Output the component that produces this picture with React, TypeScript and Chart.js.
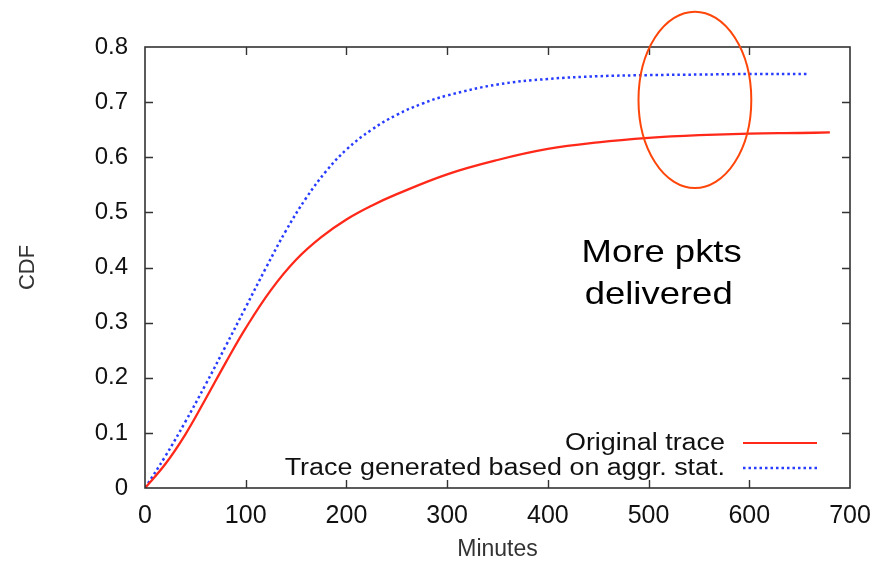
import React, { useEffect, useRef } from "react";
import { Chart, registerables } from "chart.js";

Chart.register(...registerables);

// Original trace (red, solid)
const origMinutes = [0, 20, 40, 60, 80, 100, 125, 150, 175, 200, 225, 250, 300, 350, 400, 450, 500, 550, 600, 650, 680];
const origCdf = [0, 0.043, 0.097, 0.161, 0.227, 0.29, 0.359, 0.414, 0.455, 0.487, 0.512, 0.533, 0.569, 0.595, 0.615, 0.627, 0.635, 0.64, 0.643, 0.644, 0.645];

// Trace generated based on aggr. stat. (blue, dotted)
const aggMinutes = [0, 20, 40, 60, 80, 100, 120, 140, 160, 180, 200, 225, 250, 275, 300, 350, 400, 450, 500, 550, 600, 657];
const aggCdf = [0, 0.057, 0.12, 0.187, 0.257, 0.328, 0.399, 0.467, 0.526, 0.575, 0.614, 0.65, 0.677, 0.697, 0.712, 0.732, 0.742, 0.747, 0.749, 0.75, 0.751, 0.751];

const xTickLabels = ["0", "100", "200", "300", "400", "500", "600", "700"];
const yTickLabels = ["0", "0.1", "0.2", "0.3", "0.4", "0.5", "0.6", "0.7", "0.8"];

const seriesNames = ["Original trace", "Trace generated based on aggr. stat."];
const annotationLines = ["More pkts", "delivered"];
const xTitle = "Minutes";
const yTitle = "CDF";

const RED = "rgb(255,40,25)";
const BLUE = "rgb(40,60,255)";
const FONT = "'Liberation Sans', Arial, sans-serif";
const STRETCH = 1.14;

function stretchedText(ctx: any, text: string, x: number, y: number, align: string, k = STRETCH) {
  ctx.save();
  ctx.translate(x, y);
  ctx.scale(k, 1);
  ctx.textAlign = align;
  ctx.fillText(text, 0, 0);
  ctx.restore();
}

const overlayPlugin = {
  id: "overlay",
  afterDraw(chart: any) {
    const { ctx, chartArea } = chart;
    const xs = chart.scales.x;
    const ys = chart.scales.y;
    const { left, right, top, bottom } = chartArea;
    ctx.save();
    // frame
    ctx.strokeStyle = "#333";
    ctx.lineWidth = 1.6;
    ctx.strokeRect(left, top, right - left, bottom - top);
    // inward ticks
    const tl = 8;
    ctx.lineWidth = 1.4;
    ctx.beginPath();
    for (let i = 1; i < xTickLabels.length - 1; i++) {
      const px = Math.round(xs.getPixelForValue(i * 100)) + 0.5;
      ctx.moveTo(px, bottom);
      ctx.lineTo(px, bottom - tl);
      ctx.moveTo(px, top);
      ctx.lineTo(px, top + tl);
    }
    for (let i = 1; i < yTickLabels.length - 1; i++) {
      const py = Math.round(ys.getPixelForValue(i / 10)) + 0.5;
      ctx.moveTo(left, py);
      ctx.lineTo(left + tl, py);
      ctx.moveTo(right, py);
      ctx.lineTo(right - tl, py);
    }
    ctx.stroke();

    // legend
    ctx.font = `23px ${FONT}`;
    ctx.fillStyle = "#111";
    ctx.textBaseline = "middle";
    const rows = [443, 468];
    stretchedText(ctx, seriesNames[0], 725, rows[0] + 1, "right", 1.17);
    stretchedText(ctx, seriesNames[1], 725, rows[1] + 1, "right", 1.17);
    ctx.strokeStyle = RED;
    ctx.lineWidth = 2;
    ctx.setLineDash([]);
    ctx.beginPath();
    ctx.moveTo(743, rows[0]);
    ctx.lineTo(817, rows[0]);
    ctx.stroke();
    ctx.strokeStyle = BLUE;
    ctx.lineWidth = 2.5;
    ctx.setLineDash([2.5, 3]);
    ctx.beginPath();
    ctx.moveTo(743, rows[1]);
    ctx.lineTo(817, rows[1]);
    ctx.stroke();
    ctx.setLineDash([]);

    // annotation text
    ctx.font = `32px ${FONT}`;
    ctx.fillStyle = "#000";
    ctx.textBaseline = "alphabetic";
    const cx = xs.getPixelForValue(513);
    stretchedText(ctx, annotationLines[0], cx, ys.getPixelForValue(0.41), "center");
    stretchedText(ctx, annotationLines[1], cx - 3, ys.getPixelForValue(0.333), "center");

    // ellipse highlight
    const ex = xs.getPixelForValue(546);
    const ey = ys.getPixelForValue(0.704);
    const rx = xs.getPixelForValue(602) - ex;
    const ry = ey - ys.getPixelForValue(0.864);
    ctx.strokeStyle = "rgb(255,70,10)";
    ctx.lineWidth = 2;
    ctx.beginPath();
    ctx.ellipse(ex, ey, rx, ry, 0, 0, Math.PI * 2);
    ctx.stroke();
    ctx.restore();
  },
};

export default function App() {
  const ref = useRef<HTMLCanvasElement | null>(null);
  useEffect(() => {
    document.body.style.margin = "0";
    const canvas = ref.current!;
    const chart = new Chart(canvas, {
      type: "line",
      data: {
        datasets: [
          {
            label: seriesNames[0],
            data: origMinutes.map((m, i) => ({ x: m, y: origCdf[i] })),
            borderColor: RED,
            borderWidth: 2.3,
            pointRadius: 0,
            tension: 0.4,
            fill: false,
          },
          {
            label: seriesNames[1],
            data: aggMinutes.map((m, i) => ({ x: m, y: aggCdf[i] })),
            borderColor: BLUE,
            borderWidth: 2.5,
            borderDash: [2.5, 3],
            pointRadius: 0,
            tension: 0.4,
            fill: false,
          },
        ],
      },
      options: {
        animation: false,
        responsive: false,
        devicePixelRatio: 1,
        layout: { padding: { top: 47, right: 42, left: 0, bottom: 0 } },
        plugins: { legend: { display: false }, tooltip: { enabled: false } },
        scales: {
          x: {
            type: "linear",
            min: 0,
            max: 700,
            grid: { display: false, drawTicks: false },
            border: { display: false },
            ticks: {
              stepSize: 100,
              padding: 13,
              color: "#111",
              font: { family: FONT, size: 25 },
              maxRotation: 0,
              callback: (_v: any, i: number) => xTickLabels[i],
            },
            title: {
              display: true,
              text: xTitle,
              color: "#333",
              font: { family: FONT, size: 23 },
              padding: { top: 0, bottom: 0 },
            },
            afterFit: (s: any) => {
              s.height = 75;
            },
          },
          y: {
            type: "linear",
            min: 0,
            max: 0.8,
            grid: { display: false, drawTicks: false },
            border: { display: false },
            ticks: {
              stepSize: 0.1,
              padding: 17,
              color: "#111",
              font: { family: FONT, size: 24 },
              callback: (_v: any, i: number) => yTickLabels[i],
            },
            title: {
              display: true,
              text: yTitle,
              color: "#333",
              font: { family: FONT, size: 22 },
              padding: { top: 15, bottom: 0 },
            },
            afterFit: (s: any) => {
              s.width = 145;
            },
          },
        },
      },
      plugins: [overlayPlugin],
    });
    return () => chart.destroy();
  }, []);
  return (
    <div style={{ width: 892, height: 563 }}>
      <canvas ref={ref} width={892} height={563} style={{ display: "block" }} />
    </div>
  );
}
